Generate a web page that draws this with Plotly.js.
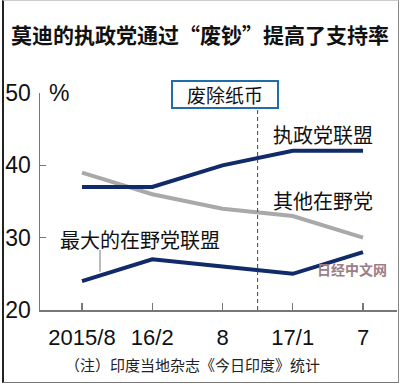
<!DOCTYPE html>
<html>
<head>
<meta charset="utf-8">
<script src="https://cdn.plot.ly/plotly-3.0.1.min.js"></script>
<style>
html,body{margin:0;padding:0;background:#fff;}
#wrap{position:relative;width:400px;height:384px;}
#chart{width:400px;height:384px;}
#frame{position:absolute;left:2px;top:0px;width:394px;height:381px;border-left:2px solid #222;border-right:1px solid #888;border-bottom:1px solid #777;border-top:1px solid #ccc;pointer-events:none;}
</style>
</head>
<body>
<div id="wrap"><div id="chart"></div><div id="frame"></div></div>
<script>
// Data
const periods = ["2015/8", "16/2", "8", "17/1", "7"];
const rulingCoalition = [37, 37, 40, 42, 42];
const otherOpposition = [39, 36, 34, 33, 30];
const mainOpposition = [24, 27, 26, 25, 28];
const yTicks = [20, 30, 40, 50];

const idx = periods.map((_, i) => i);
const navy = "#102a6a";
const grey = "#a9a9a9";
const cjk = "'Noto Sans CJK SC', sans-serif";
const narrow = "'Liberation Sans Narrow', 'Arial Narrow', 'Liberation Sans', sans-serif";

const traces = [
  {x: idx, y: otherOpposition, mode: "lines", line: {color: grey, width: 4}, hoverinfo: "skip"},
  {x: idx, y: rulingCoalition, mode: "lines", line: {color: navy, width: 4}, hoverinfo: "skip"},
  {x: idx, y: mainOpposition, mode: "lines", line: {color: navy, width: 4}, hoverinfo: "skip"}
];

const layout = {
  width: 400, height: 384,
  margin: {l: 40, r: 3, t: 92.5, b: 73.5},
  paper_bgcolor: "#fff", plot_bgcolor: "#fff",
  showlegend: false,
  title: {text: "<b>莫迪的执政党通过“废钞”提高了支持率</b>", x: 0.5, xref: "container", xanchor: "center",
          y: 0.906, yref: "container", yanchor: "middle",
          font: {family: cjk, size: 21, color: "#111"}},
  xaxis: {range: [-0.598, 4.484], tickvals: idx, ticktext: periods, showgrid: false, zeroline: false,
          showline: true, linecolor: "#777", linewidth: 1.5, ticks: "inside", ticklen: 7, tickcolor: "#777",
          tickwidth: 1.2, tickfont: {family: narrow, size: 22, color: "#111"}, ticklabelstandoff: 7},
  yaxis: {range: [20, 50], tickvals: yTicks, showgrid: false, zeroline: false,
          showline: true, linecolor: "#777", linewidth: 1.5, ticks: "inside", ticklen: 6, tickcolor: "#777",
          tickwidth: 1.2, tickfont: {family: narrow, size: 23, color: "#111"}, ticklabelstandoff: 3},
  shapes: [
    {type: "line", x0: 2.5, x1: 2.5, y0: 20, y1: 47.85, line: {color: "#444", width: 1, dash: "4px,3px"}},
    {type: "line", x0: 0.256, x1: 0.256, y0: 28.3, y1: 25.3, line: {color: "#777", width: 1}}
  ],
  annotations: [
    {text: "%", xref: "paper", x: 0.053, y: 50, yref: "y", showarrow: false, xanchor: "center", yanchor: "middle",
     font: {family: narrow, size: 23, color: "#111"}},
    {text: "废除纸币", x: 2.033, y: 49.78, showarrow: false, xanchor: "center", yanchor: "middle",
     font: {family: cjk, size: 19, color: "#111"}, bordercolor: "#1f6ea8", borderwidth: 2, bgcolor: "#fff",
     width: 104, height: 25, borderpad: 0},
    {text: "执政党联盟", x: 3.424, y: 44.29, showarrow: false, xanchor: "center", yanchor: "middle",
     font: {family: cjk, size: 20, color: "#111"}},
    {text: "其他在野党", x: 3.424, y: 35.07, showarrow: false, xanchor: "center", yanchor: "middle",
     font: {family: cjk, size: 20, color: "#111"}},
    {text: "最大的在野党联盟", x: 0.826, y: 29.7, showarrow: false, xanchor: "center", yanchor: "middle",
     font: {family: cjk, size: 20, color: "#111"}},
    {text: "<b>日经中文网</b>", x: 3.84, y: 25.7, showarrow: false, xanchor: "center", yanchor: "middle",
     font: {family: cjk, size: 14, color: "#9c7d86"}},
    {text: "（注）印度当地杂志《今日印度》统计", xref: "paper", yref: "paper", x: 0.426, y: -0.25,
     showarrow: false, xanchor: "center", yanchor: "middle", font: {family: cjk, size: 15, color: "#222"}}
  ]
};

Plotly.newPlot("chart", traces, layout, {displayModeBar: false, staticPlot: true});
</script>
</body>
</html>
